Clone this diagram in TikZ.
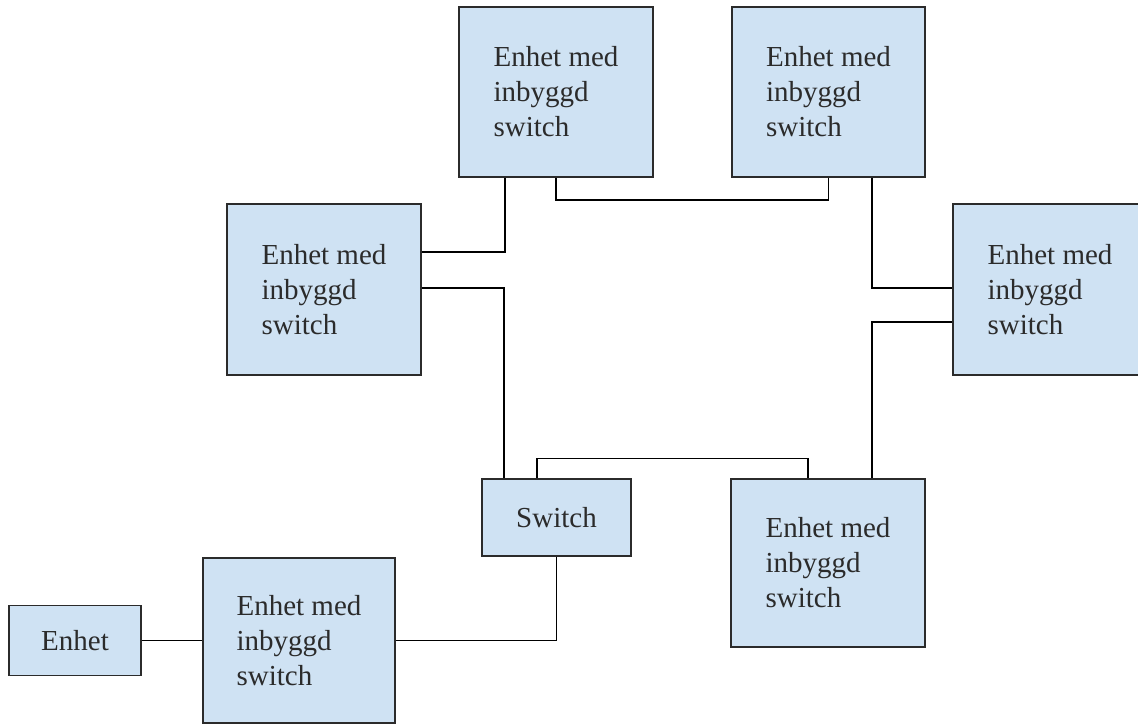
\documentclass[tikz,border=0pt]{standalone}
\usepackage{fontspec}
\setmainfont{Liberation Serif}
\usetikzlibrary{positioning}
\definecolor{ljusbla}{HTML}{CFE2F3}
\definecolor{kant}{HTML}{2B2B2B}

\begin{document}
\begin{tikzpicture}[x=1pt, y=-1pt,
		ruta/.style={draw=kant, line width=1.6pt, fill=ljusbla, inner sep=0pt, text=kant, font=\fontsize{29}{35}\selectfont},
		stor/.style={ruta, minimum width=194pt, minimum height=170pt, align=left},
		kabel/.style={draw=black, line width=1.4pt}]
	\useasboundingbox (0,0) rectangle (1138,724);
	\clip (0,0) rectangle (1138,724);
		\node [stor] (a) at (556,92) {Enhet med\\inbyggd\\switch};
		\node [stor, minimum width=193pt] (b) at (828.5,92) {Enhet med\\inbyggd\\switch};
		\node [stor, minimum height=171pt] (c) at (324,289.5) {Enhet med\\inbyggd\\switch};
		\node [stor, minimum height=171pt] (d) at (1050,289.5) {Enhet med\\inbyggd\\switch};
		\node [ruta, minimum width=149pt, minimum height=77pt] (sw) at (556.5,517.5) {Switch};
		\node [stor, minimum height=168pt] (f) at (828,563) {Enhet med\\inbyggd\\switch};
		\node [stor, minimum width=192pt, minimum height=165pt] (g) at (299,640.5) {Enhet med\\inbyggd\\switch};
		\node [ruta, minimum width=132pt, minimum height=70pt] (e) at (75,640.5) {Enhet};
		\draw [kabel] ([xshift=-51pt]a.south) |- ([yshift=37.5pt]c.east);
		\draw [kabel] (a.south) -- ++(0,22) -| (b.south);
		\draw [kabel] ([xshift=43.5pt]b.south) |- ([yshift=1.5pt]d.west);
		\draw [kabel] ([yshift=-32.5pt]d.west) -| ([xshift=44pt]f.north);
		\draw [kabel] ([yshift=1.5pt]c.east) -| ([xshift=-52.5pt]sw.north);
		\draw [kabel] ([xshift=-19.5pt]sw.north) -- ++(0,-20) -| ([xshift=-20pt]f.north);
		\draw [kabel] (sw.south) |- (g.east);
		\draw [kabel] (e.east) -- (g.west);
	\end{tikzpicture}
\end{document}
